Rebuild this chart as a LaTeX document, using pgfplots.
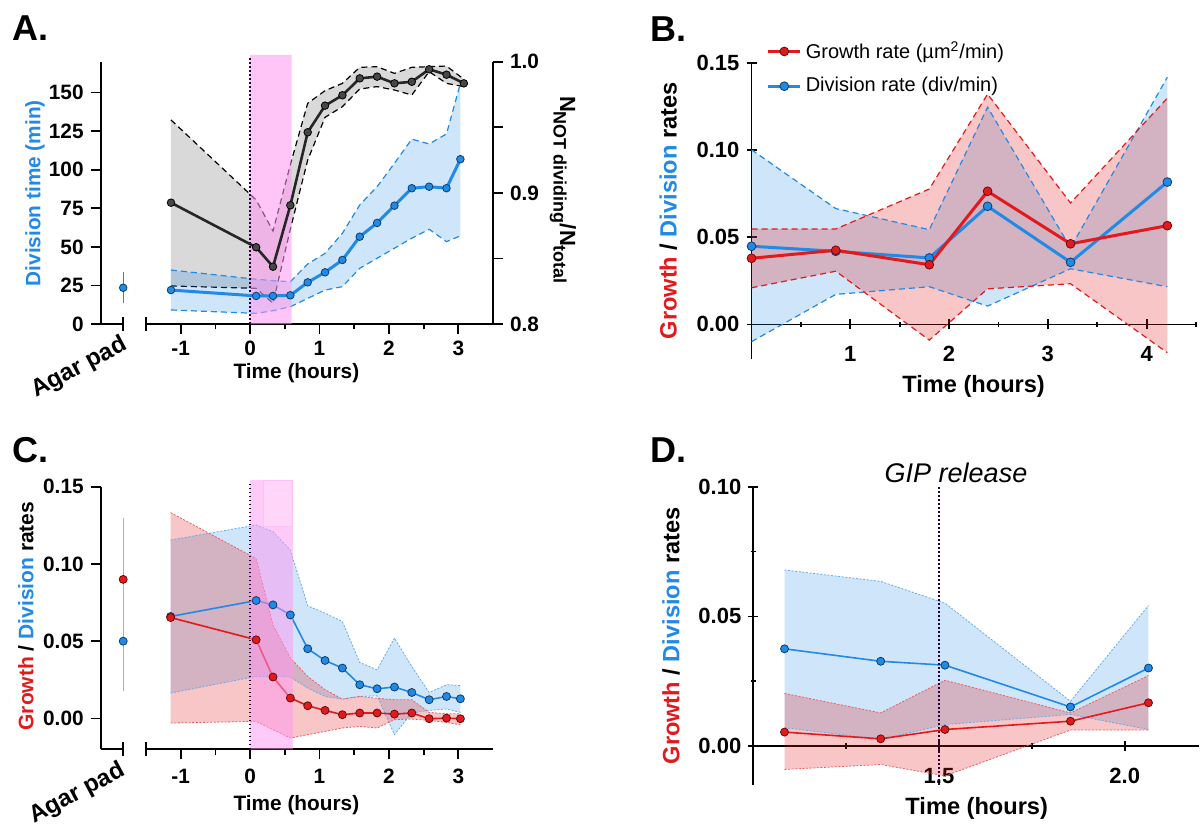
\documentclass[border=0pt]{standalone}
\usepackage{fontspec}
\setmainfont{Liberation Sans}
\usepackage{pgfplots}
\pgfplotsset{compat=1.18}
\usepackage{pgfplotstable}

\definecolor{myblue}{RGB}{33,137,230}
\definecolor{myred}{RGB}{227,26,28}
\definecolor{mypink}{RGB}{255,150,240}
\definecolor{dotc}{RGB}{40,0,60}
\definecolor{lightred}{RGB}{240,150,150}
\definecolor{lightblue}{RGB}{140,185,235}

% Panel A: division time (left scale)
\pgfplotstableread{
t m lo hi
-1.14 22.0 9.1 35.0
0.087 18.2 6.9 29.0
0.33 18.2 8.6 28.1
0.58 18.6 11.2 27.4
0.83 27.0 16.6 38.9
1.08 33.5 22.0 45.8
1.33 41.5 24.2 58.8
1.58 56.6 36.1 77.2
1.83 65.5 42.6 89.0
2.08 76.7 49.1 104.2
2.33 88.0 55.6 119.8
2.58 89.0 61.4 116.7
2.83 88.0 53.4 123.2
3.03 106.8 57.1 156.0
}\Ablue
% Panel A: N not dividing / N total (right scale)
\pgfplotstableread{
t m lo hi
-1.14 0.8925 0.8290 0.9556
0.087 0.8585 0.8272 0.8946
0.33 0.8437 0.8158 0.8709
0.58 0.8905 0.8724 0.9215
0.83 0.9462 0.9250 0.9683
1.08 0.9665 0.9576 0.9779
1.33 0.9744 0.9657 0.9835
1.58 0.9873 0.9792 0.9957
1.83 0.9886 0.9810 0.9962
2.08 0.9835 0.9784 0.9911
2.33 0.9847 0.9746 0.9957
2.58 0.9942 0.9924 0.9962
2.83 0.9901 0.9835 0.9967
3.08 0.9835 0.9810 0.9866
}\Ablack
% Panel B
\pgfplotstableread{
t gm glo ghi dm dlo dhi
0 0.0379 0.0210 0.0547 0.0448 -0.0099 0.1001
0.853 0.0425 0.0305 0.0547 0.0419 0.0172 0.0664
1.80 0.0342 -0.0090 0.0776 0.0381 0.0216 0.0543
2.39 0.0763 0.0204 0.1320 0.0677 0.0105 0.1245
3.23 0.0462 0.0233 0.0696 0.0356 0.0319 0.0439
4.21 0.0566 -0.0162 0.1297 0.0816 0.0216 0.1417
}\Bdata
% Panel C
\pgfplotstableread{
t gm glo ghi dm dlo dhi
-1.145 0.0653 -0.0030 0.1332 0.0660 0.0164 0.1155
0.087 0.0509 -0.0019 0.1035 0.0763 0.0272 0.1252
0.33 0.0268 -0.0073 0.0606 0.0735 0.0272 0.1209
0.58 0.0132 -0.0127 0.0390 0.0670 0.0268 0.1090
0.83 0.0082 -0.0105 0.0272 0.0451 0.0196 0.0729
1.08 0.0052 -0.0084 0.0186 0.0375 0.0142 0.0681
1.33 0.0024 -0.0062 0.0125 0.0326 0.0125 0.0627
1.58 0.0035 -0.0052 0.0142 0.0218 0.0142 0.0362
1.83 0.0035 -0.0062 0.0131 0.0192 0.0146 0.0315
2.08 0.0028 -0.0008 0.0121 0.0203 -0.0105 0.0520
2.33 0.0035 -0.0004 0.0121 0.0168 0.0035 0.0336
2.58 -0.0002 -0.0013 0.0039 0.0121 0.0052 0.0168
2.83 0.0002 -0.0026 0.0030 0.0142 0.0061 0.0218
3.03 -0.0002 -0.0041 0.0030 0.0127 0.0039 0.0213
}\Cdata
% Panel D
\pgfplotstableread{
t gm glo ghi dm dlo dhi
1.084 0.0054 -0.0090 0.0203 0.0375 0.0071 0.0679
1.343 0.0028 -0.0071 0.0128 0.0327 0.0026 0.0635
1.516 0.0064 -0.0115 0.0254 0.0312 0.0083 0.0551
1.854 0.0096 0.0062 0.0128 0.0151 0.0122 0.0173
2.064 0.0167 0.0062 0.0272 0.0301 0.0064 0.0542
}\Ddata

\pgfplotsset{
  base/.style={scale only axis, clip=false, anchor=south west,
    axis line style={-, line width=0.9pt},
    tick align=outside, major tick length=5pt, minor tick length=2.7pt,
    tick style={black, line width=0.9pt},
    /pgf/number format/assume math mode=true,
    tick label style={font=\bfseries\fontsize{10.4}{12}\selectfont},
  },
  noarrows/.style={every inner x axis line/.append style={-}, every outer x axis line/.append style={-},
    every inner y axis line/.append style={-}, every outer y axis line/.append style={-}},
  bigtick/.style={tick label style={font=\bfseries\fontsize{11}{13}\selectfont}},
  rates/.style={yticklabel style={/pgf/number format/.cd, fixed, fixed zerofill, precision=2}},
  endtick/.style={extra x ticks={#1}, extra x tick labels={}, extra x tick style={tick align=center, major tick length=7pt}},
  bmark/.style={mark=*, mark options={solid, fill=myblue, draw=myblue!45!black, line width=0.4pt}},
  rmark/.style={mark=*, mark options={solid, fill=myred, draw=myred!45!black, line width=0.4pt}},
  bband/.style={draw=none, fill=myblue, fill opacity=0.22, forget plot},
  rband/.style={draw=none, fill=myred, fill opacity=0.25, forget plot},
}

\begin{document}
\begin{tikzpicture}
\path[use as bounding box] (0,0) rectangle (602pt,413.5pt);

%================ PANEL A ================
% right axis + grey band
\begin{axis}[base, at={(73pt,251.5pt)}, width=173.5pt, height=131.15pt,
  xmin=-1.5, xmax=3.5, ymin=0.8, ymax=1.0,
  axis x line*=bottom, axis y line*=right, xtick=\empty,
  x axis line style={draw=none},
  ytick={0.8,0.85,0.9,0.95,1.0}, yticklabels={0.8,,0.9,,1.0}]
\addplot[draw=none, fill=black, fill opacity=0.15] coordinates {
(-1.14,0.9556)(0.087,0.8946)(0.33,0.8709)(0.58,0.9215)(0.83,0.9683)(1.08,0.9779)(1.33,0.9835)(1.58,0.9957)(1.83,0.9962)(2.08,0.9911)(2.33,0.9957)(2.58,0.9962)(2.83,0.9967)(3.08,0.9866)
(3.08,0.9810)(2.83,0.9835)(2.58,0.9924)(2.33,0.9746)(2.08,0.9784)(1.83,0.9810)(1.58,0.9792)(1.33,0.9657)(1.08,0.9576)(0.83,0.9250)(0.58,0.8724)(0.33,0.8158)(0.087,0.8272)(-1.14,0.8290)(-1.14,0.9556)};
\addplot[black, line width=0.6pt, dash pattern=on 3pt off 2pt] table[x=t,y=hi]{\Ablack};
\addplot[black, line width=0.6pt, dash pattern=on 3pt off 2pt] table[x=t,y=lo]{\Ablack};
\end{axis}
% time axis, blue series
\begin{axis}[base, at={(73pt,251.5pt)}, width=173.5pt, height=131.15pt,
  xmin=-1.5, xmax=3.5, ymin=0, ymax=170,
  axis x line*=bottom, axis y line*=left, ytick=\empty,
  y axis line style={draw=none},
  xtick={-1,0,1,2,3}, minor xtick={-0.5,0.5,1.5,2.5}, endtick={-1.5}]
\addplot[bband] coordinates {
(-1.14,35.0)(0.087,29.0)(0.33,28.1)(0.58,27.4)(0.83,38.9)(1.08,45.8)(1.33,58.8)(1.58,77.2)(1.83,89.0)(2.08,104.2)(2.33,119.8)(2.58,116.7)(2.83,123.2)(3.03,156.0)
(3.03,57.1)(2.83,53.4)(2.58,61.4)(2.33,55.6)(2.08,49.1)(1.83,42.6)(1.58,36.1)(1.33,24.2)(1.08,22.0)(0.83,16.6)(0.58,11.2)(0.33,8.6)(0.087,6.9)(-1.14,9.1)(-1.14,35.0)};
\addplot[myblue, line width=0.6pt, dash pattern=on 3pt off 2pt] table[x=t,y=hi]{\Ablue};
\addplot[myblue, line width=0.6pt, dash pattern=on 3pt off 2pt] table[x=t,y=lo]{\Ablue};
\addplot[draw=none, fill=mypink, fill opacity=0.55] coordinates {(0,0) (0,174.5) (0.6,174.5) (0.6,0) (0,0)};
\addplot[dotc, line width=1pt, dash pattern=on 0.9pt off 1.1pt] coordinates {(0,0) (0,173)};
\addplot[myblue, line width=1.5pt, bmark, mark size=1.9pt] table[x=t,y=m]{\Ablue};
\end{axis}
% black series
\begin{axis}[base, at={(73pt,251.5pt)}, width=173.5pt, height=131.15pt,
  xmin=-1.5, xmax=3.5, ymin=0.8, ymax=1.0, hide axis]
\addplot[black!85, line width=1.3pt, mark=*, mark size=1.9pt, mark options={fill=black!72, draw=black, line width=0.4pt}] table[x=t,y=m]{\Ablack};
\end{axis}
% agar pad axis
\begin{axis}[base, at={(50.35pt,251.5pt)}, width=11.25pt, height=131.15pt,
  xmin=0, xmax=1, ymin=0, ymax=170,
  axis x line*=bottom, axis y line*=left, xtick=\empty, endtick={1},
  ytick={0,25,50,75,100,125,150}]
\addplot[myblue, bmark, mark size=1.9pt,
  error bars/.cd, y dir=both, y explicit,
  error bar style={color=myblue, line width=0.7pt},
  error mark options={color=myblue, mark size=1.8pt, line width=0.7pt}]
  coordinates {(1,23.5) +- (0,7.75)};
\end{axis}

\node[anchor=base west, inner sep=0pt, font=\bfseries\fontsize{18}{20}\selectfont] at (6.25pt,393.15pt) {A.};
\node[rotate=90, text=myblue, font=\bfseries\fontsize{10.4}{12}\selectfont] at (17.5pt,316.85pt) {Division time (min)};
\node[font=\bfseries\fontsize{10.4}{12}\selectfont] at (148.2pt,226.85pt) {Time (hours)};
\node[rotate=-90, font=\bfseries\fontsize{11}{13}\selectfont] at (281.5pt,318.5pt) {N\raisebox{-0.55ex}{\fontsize{9}{10}\selectfont NOT dividing}/N\raisebox{-0.55ex}{\fontsize{9}{10}\selectfont total}};
\node[rotate=28, anchor=north east, inner sep=0pt, font=\bfseries\fontsize{12}{14}\selectfont] at (60pt,247pt) {Agar pad};

%================ PANEL B ================
\begin{axis}[base, bigtick, rates, at={(375.75pt,233.85pt)}, width=222.25pt, height=148.3pt,
  xmin=0, xmax=4.5, ymin=-0.02, ymax=0.15,
  axis x line=middle, axis y line=left, noarrows,
  xticklabel style={yshift=-5pt},
  xtick={1,2,3,4}, minor xtick={0.5,1.5,2.5,3.5,4.5},
  ytick={0,0.05,0.1,0.15},
  reverse legend,
  legend style={at={(rel axis cs:0.02,1.10)}, anchor=north west, draw=none, fill=none,
    font=\fontsize{10}{12}\selectfont, row sep=4pt, legend cell align=left},
  legend image code/.code={\draw[mark repeat=2, mark phase=2, #1] plot coordinates {(0pt,0pt) (8pt,0pt) (16pt,0pt)};}]
\addplot[bband] coordinates {(0,0.1001)(0.853,0.0664)(1.80,0.0543)(2.39,0.1245)(3.23,0.0439)(4.21,0.1417)(4.21,0.0216)(3.23,0.0319)(2.39,0.0105)(1.80,0.0216)(0.853,0.0172)(0,-0.0099)(0,0.1001)};
\addplot[rband] coordinates {(0,0.0547)(0.853,0.0547)(1.80,0.0776)(2.39,0.1320)(3.23,0.0696)(4.21,0.1297)(4.21,-0.0162)(3.23,0.0233)(2.39,0.0204)(1.80,-0.0090)(0.853,0.0305)(0,0.0210)(0,0.0547)};
\addplot[myblue, line width=0.6pt, dash pattern=on 3pt off 2pt, forget plot] table[x=t,y=dhi]{\Bdata};
\addplot[myblue, line width=0.6pt, dash pattern=on 3pt off 2pt, forget plot] table[x=t,y=dlo]{\Bdata};
\addplot[myred, line width=0.6pt, dash pattern=on 3pt off 2pt, forget plot] table[x=t,y=ghi]{\Bdata};
\addplot[myred, line width=0.6pt, dash pattern=on 3pt off 2pt, forget plot] table[x=t,y=glo]{\Bdata};
\addplot[myblue, line width=1.5pt, bmark, mark size=2.2pt] table[x=t,y=dm]{\Bdata};
\addlegendentry{Division rate (div/min)}
\addplot[myred, line width=1.5pt, rmark, mark size=2.2pt] table[x=t,y=gm]{\Bdata};
\addlegendentry{Growth rate (µm\textsuperscript{2}/min)}
\end{axis}
\node[anchor=base west, inner sep=0pt, font=\bfseries\fontsize{18}{20}\selectfont] at (325pt,392.65pt) {B.};
\node[rotate=90, font=\bfseries\fontsize{11.8}{13}\selectfont] at (334.2pt,308.1pt) {\textcolor{myred}{Growth} / \textcolor{myblue}{Division} rates};
\node[font=\bfseries\fontsize{11.8}{13}\selectfont] at (486.8pt,220.15pt) {Time (hours)};

%================ PANEL C ================
\begin{axis}[base, rates, at={(73pt,38.85pt)}, width=173.5pt, height=131.3pt,
  xmin=-1.5, xmax=3.5, ymin=-0.02, ymax=0.15,
  axis x line*=bottom, axis y line*=left, ytick=\empty,
  y axis line style={draw=none}, xticklabel style={yshift=-1.5pt},
  xtick={-1,0,1,2,3}, minor xtick={-0.5,0.5,1.5,2.5}, endtick={-1.5}]
\addplot[bband] coordinates {
(-1.145,0.1155)(0.087,0.1252)(0.33,0.1209)(0.58,0.1090)(0.83,0.0729)(1.08,0.0681)(1.33,0.0627)(1.58,0.0362)(1.83,0.0315)(2.08,0.0520)(2.33,0.0336)(2.58,0.0168)(2.83,0.0218)(3.03,0.0213)
(3.03,0.0039)(2.83,0.0061)(2.58,0.0052)(2.33,0.0035)(2.08,-0.0105)(1.83,0.0146)(1.58,0.0142)(1.33,0.0125)(1.08,0.0142)(0.83,0.0196)(0.58,0.0268)(0.33,0.0272)(0.087,0.0272)(-1.145,0.0164)(-1.145,0.1155)};
\addplot[rband] coordinates {
(-1.145,0.1332)(0.087,0.1035)(0.33,0.0606)(0.58,0.0390)(0.83,0.0272)(1.08,0.0186)(1.33,0.0125)(1.58,0.0142)(1.83,0.0131)(2.08,0.0121)(2.33,0.0121)(2.58,0.0039)(2.83,0.0030)(3.03,0.0030)
(3.03,-0.0041)(2.83,-0.0026)(2.58,-0.0013)(2.33,-0.0004)(2.08,-0.0008)(1.83,-0.0062)(1.58,-0.0052)(1.33,-0.0062)(1.08,-0.0084)(0.83,-0.0105)(0.58,-0.0127)(0.33,-0.0073)(0.087,-0.0019)(-1.145,-0.0030)(-1.145,0.1332)};
\addplot[myblue!70, line width=0.4pt, dash pattern=on 1pt off 0.8pt] table[x=t,y=dhi]{\Cdata};
\addplot[myblue!70, line width=0.4pt, dash pattern=on 1pt off 0.8pt] table[x=t,y=dlo]{\Cdata};
\addplot[myred!70, line width=0.4pt, dash pattern=on 1pt off 0.8pt] table[x=t,y=ghi]{\Cdata};
\addplot[myred!70, line width=0.4pt, dash pattern=on 1pt off 0.8pt] table[x=t,y=glo]{\Cdata};
\addplot[myblue, line width=0.8pt, bmark, mark size=2pt] table[x=t,y=dm]{\Cdata};
\addplot[myred, line width=0.8pt, rmark, mark size=2pt] table[x=t,y=gm]{\Cdata};
\addplot[draw=none, fill=mypink, fill opacity=0.5] coordinates {(0,-0.02) (0,0.1543) (0.616,0.1543) (0.616,-0.02) (0,-0.02)};
\addplot[draw=mypink!60, line width=0.4pt, fill=white, fill opacity=0.2] coordinates {(0.19,0.1246) (0.19,0.1543) (0.616,0.1543) (0.616,0.1246) (0.19,0.1246)};
\addplot[dotc, line width=1pt, dash pattern=on 0.9pt off 1.1pt] coordinates {(0,-0.02) (0,0.152)};
\end{axis}
% agar pad axis C
\begin{axis}[base, rates, at={(50.35pt,38.85pt)}, width=11.25pt, height=131.3pt,
  xmin=0, xmax=1, ymin=-0.02, ymax=0.15,
  axis x line*=bottom, axis y line*=left, xtick=\empty, endtick={1},
  ytick={0,0.05,0.1,0.15}]
\addplot[myred, rmark, mark size=2pt,
  error bars/.cd, y dir=both, y explicit,
  error bar style={color=lightred, line width=0.6pt},
  error mark options={color=lightred, mark size=1.8pt, line width=0.6pt}]
  coordinates {(1,0.09) +- (0,0.0375)};
\addplot[myblue, bmark, mark size=2pt,
  error bars/.cd, y dir=both, y explicit,
  error bar style={color=lightblue, line width=0.6pt},
  error mark options={color=lightblue, mark size=1.8pt, line width=0.6pt}]
  coordinates {(1,0.05) +- (0,0.03)};
\end{axis}
\node[anchor=base west, inner sep=0pt, font=\bfseries\fontsize{18}{20}\selectfont] at (6pt,182.5pt) {C.};
\node[rotate=90, font=\bfseries\fontsize{10.5}{12}\selectfont] at (13pt,105.5pt) {\textcolor{myred}{Growth} / \textcolor{myblue}{Division} rates};
\node[font=\bfseries\fontsize{10.4}{12}\selectfont] at (148.2pt,11pt) {Time (hours)};
\node[rotate=28, anchor=north east, inner sep=0pt, font=\bfseries\fontsize{12}{14}\selectfont] at (59pt,34pt) {Agar pad};

%================ PANEL D ================
\begin{axis}[base, bigtick, rates, at={(376.65pt,21pt)}, width=222.85pt, height=149.15pt,
  xmin=1.0, xmax=2.2, ymin=-0.015, ymax=0.10,
  axis x line=middle, axis y line=left, noarrows,
  xticklabel style={yshift=-5pt},
  xtick={1.5,2.0}, xticklabels={1.5,2.0}, minor xtick={1.25,1.75},
  ytick={0,0.05,0.1}, minor ytick={0.025,0.075}]
\addplot[bband] coordinates {(1.084,0.0679)(1.343,0.0635)(1.516,0.0551)(1.854,0.0173)(2.064,0.0542)(2.064,0.0064)(1.854,0.0122)(1.516,0.0083)(1.343,0.0026)(1.084,0.0071)(1.084,0.0679)};
\addplot[rband] coordinates {(1.084,0.0203)(1.343,0.0128)(1.516,0.0254)(1.854,0.0128)(2.064,0.0272)(2.064,0.0062)(1.854,0.0062)(1.516,-0.0115)(1.343,-0.0071)(1.084,-0.0090)(1.084,0.0203)};
\addplot[myblue!70, line width=0.4pt, dash pattern=on 1pt off 0.8pt] table[x=t,y=dhi]{\Ddata};
\addplot[myblue!70, line width=0.4pt, dash pattern=on 1pt off 0.8pt] table[x=t,y=dlo]{\Ddata};
\addplot[myred!70, line width=0.4pt, dash pattern=on 1pt off 0.8pt] table[x=t,y=ghi]{\Ddata};
\addplot[myred!70, line width=0.4pt, dash pattern=on 1pt off 0.8pt] table[x=t,y=glo]{\Ddata};
\addplot[myblue, line width=0.8pt, bmark, mark size=2pt] table[x=t,y=dm]{\Ddata};
\addplot[myred, line width=0.8pt, rmark, mark size=2pt] table[x=t,y=gm]{\Ddata};
\addplot[dotc, line width=1pt, dash pattern=on 0.9pt off 1.1pt] coordinates {(1.5,-0.015) (1.5,0.1)};
\end{axis}
\node[anchor=base west, inner sep=0pt, font=\bfseries\fontsize{18}{20}\selectfont] at (325pt,182.5pt) {D.};
\node[rotate=90, font=\bfseries\fontsize{11.8}{13}\selectfont] at (335.5pt,95.6pt) {\textcolor{myred}{Growth} / \textcolor{myblue}{Division} rates};
\node[font=\bfseries\fontsize{11.8}{13}\selectfont] at (488.35pt,9.35pt) {Time (hours)};
\node[font=\itshape\fontsize{13.5}{15}\selectfont] at (478pt,177pt) {GIP release};

\end{tikzpicture}
\end{document}
